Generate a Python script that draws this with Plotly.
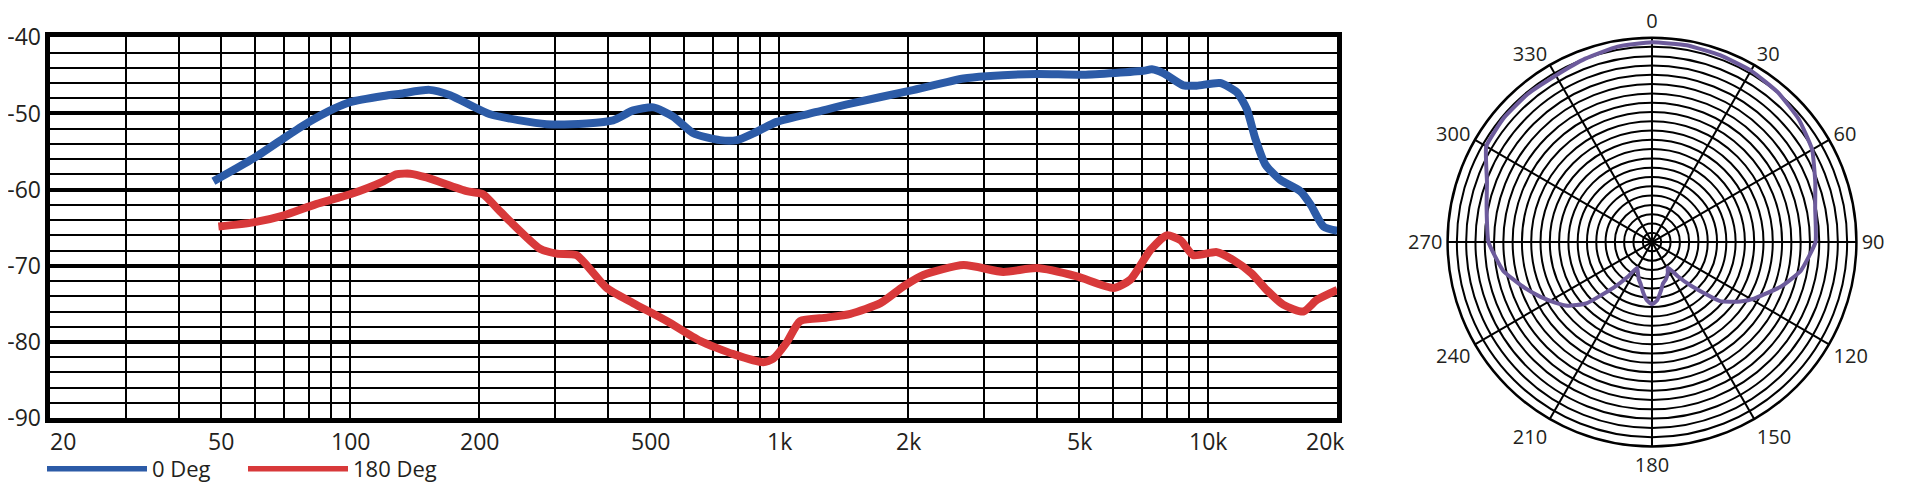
import math
import plotly.graph_objects as go

# ---------------- data ----------------
freq_0deg = [48, 59.5, 69.8, 79.2, 91.4, 100, 119.5, 131, 153, 171, 212, 287, 356, 410, 457, 509,
             566, 631, 728, 796, 871, 987, 1224, 1466, 2023, 2690, 3046, 3986, 5118, 7064, 7390,
             7862, 8750, 9400, 10660, 11660, 12300, 12880, 13590, 14720, 16400, 17300, 18580, 20000]
db_0deg = [-58.9, -55.9, -53.3, -51.3, -49.4, -48.5, -47.7, -47.4, -46.9, -47.6, -50.1, -51.4, -51.3,
           -50.9, -49.6, -49.2, -50.4, -52.6, -53.5, -53.5, -52.6, -51.1, -49.8, -48.7, -47.0, -45.4,
           -45.1, -44.8, -44.9, -44.4, -44.2, -44.7, -46.3, -46.35, -46.0, -47.2, -49.4, -53.3, -56.7,
           -58.7, -60.2, -61.9, -64.85, -65.4]

freq_180deg = [49.3, 59.5, 69.8, 83.3, 100, 119.5, 128, 138, 150.6, 187, 204, 223, 277, 303, 337, 396,
               457, 547, 654, 782, 918, 968, 1040, 1119, 1291, 1466, 1722, 1949, 2168, 2690, 3329,
               3986, 4945, 6016, 6578, 7330, 8007, 8625, 9230, 10470, 11450, 12630, 13680, 14960,
               16670, 17950, 20000]
db_180deg = [-64.85, -64.3, -63.4, -61.9, -60.6, -58.9, -58.0, -57.9, -58.4, -60.2, -60.6, -62.8,
             -67.75, -68.4, -68.6, -72.9, -74.9, -77.25, -79.85, -81.6, -82.65, -82.2, -80.1, -77.25,
             -76.8, -76.3, -74.9, -72.7, -71.2, -69.9, -70.8, -70.3, -71.4, -72.9, -71.85, -67.95,
             -66.0, -66.65, -68.6, -68.2, -69.25, -71.0, -73.15, -75.1, -76.0, -74.45, -73.15]

# grid positions (every 1-9 multiple) and labelled frequencies
x_grid_vals = [20, 30, 40, 50, 60, 70, 80, 90,
               100, 200, 300, 400, 500, 600, 700, 800, 900,
               1000, 2000, 3000, 4000, 5000, 6000, 7000, 8000, 9000,
               10000, 20000]
x_label_vals = [20, 50, 100, 200, 500, 1000, 2000, 5000, 10000, 20000]
x_label_text = ["20", "50", "100", "200", "500", "1k", "2k", "5k", "10k", "20k"]
y_tick_vals = [-40, -50, -60, -70, -80, -90]
y_tick_text = ["-40", "-50", "-60", "-70", "-80", "-90"]

series_names = ["0 Deg", "180 Deg"]

polar_angle = [0, 10, 20, 30, 40, 50, 60, 70, 78, 90, 101, 109, 119, 124, 131, 138, 143, 148,
               153, 160, 165, 170, 175, 180, 185, 190, 195, 200, 205, 210, 215, 220, 227, 233,
               238, 244, 251, 259, 270, 282, 290, 300, 310, 320, 330, 340, 350, 360]
polar_r = [21.5, 21.5, 21.4, 21.3, 21.05, 20.6, 19.9, 18.7, 17.95, 17.6, 16.3, 14.7, 12.55, 11.45,
           9.7, 6.4, 4.6, 3.2, 3.75, 4.3, 4.6, 5.4, 6.3, 6.7, 6.3, 5.5, 4.7, 4.2, 3.6, 3.2, 4.6,
           6.4, 9.7, 11.4, 12.3, 13.4, 14.7, 16.3, 17.6, 18.2, 18.9, 20.6, 20.8, 20.8, 20.7, 21.0,
           21.35, 21.5]
polar_ticks = [0, 30, 60, 90, 120, 150, 180, 210, 240, 270, 300, 330]

# ---------------- styles ----------------
BLUE = "#2C5BA7"
RED = "#D8393A"
PURPLE = "#6D5B9C"
INK = "#231F20"
FONT = "Open Sans"

fig = go.Figure()

fig.add_trace(go.Scatter(x=freq_0deg, y=db_0deg, mode="lines", name=series_names[0],
                         line=dict(color=BLUE, width=8, shape="spline", smoothing=0.6),
                         showlegend=False, xaxis="x", yaxis="y"))
fig.add_trace(go.Scatter(x=freq_180deg, y=db_180deg, mode="lines", name=series_names[1],
                         line=dict(color=RED, width=8, shape="spline", smoothing=0.6),
                         showlegend=False, xaxis="x", yaxis="y"))
# legend entries
fig.add_trace(go.Scatter(x=[None], y=[None], mode="lines", name=series_names[0],
                         line=dict(color=BLUE, width=5.5), xaxis="x", yaxis="y"))
fig.add_trace(go.Scatter(x=[None], y=[None], mode="lines", name=series_names[1],
                         line=dict(color=RED, width=5.5), xaxis="x", yaxis="y"))

fig.add_trace(go.Scatterpolar(theta=polar_angle, r=polar_r, mode="lines",
                              line=dict(color=PURPLE, width=4, shape="spline", smoothing=0.4),
                              showlegend=False, subplot="polar"))

# The page body adds an 8px offset; figure coordinates = page coordinates - 8
OFF = 8
W, H = 1920 - 2 * OFF, 498 - 2 * OFF


def px_x(x):
    return (x - OFF) / W


def px_y(y):
    return (H - (y - OFF)) / H


PC_X, PC_Y, PR = 1652, 245, 207

X_MIN, X_MAX = math.log10(20), math.log10(20000)

# x tick labels as annotations (first / last nudged inward as in the reference)
x_label_shift = {20: 13, 20000: -12}
annotations = []
for v, t in zip(x_label_vals, x_label_text):
    annotations.append(dict(
        x=min(max(math.log10(v), X_MIN), X_MAX), xref="x", y=px_y(446), yref="paper",
        text=t, showarrow=False, xanchor="center", yanchor="middle",
        xshift=x_label_shift.get(v, 0),
        font=dict(family=FONT, size=23, color=INK),
    ))

fig.update_layout(
    width=W, height=H, autosize=False,
    margin=dict(l=0, r=0, t=0, b=0, pad=0),
    paper_bgcolor="white", plot_bgcolor="white",
    font=dict(family=FONT, size=22, color=INK),
    xaxis=dict(
        type="log", automargin=False,
        domain=[px_x(50.3), px_x(1337.3)],
        range=[X_MIN, X_MAX],
        tickmode="array", tickvals=x_grid_vals, showticklabels=False,
        showgrid=True, gridcolor="black", gridwidth=2.3,
        showline=True, mirror=True, linecolor="black", linewidth=4.5,
        ticks="", zeroline=False,
    ),
    yaxis=dict(
        automargin=False,
        domain=[px_y(423.3), px_y(37.7)],
        range=[-90, -40],
        tickmode="array", tickvals=y_tick_vals, ticktext=y_tick_text,
        showgrid=True, gridcolor="black", gridwidth=4,
        minor=dict(dtick=2, tick0=-90, showgrid=True, gridcolor="black", gridwidth=2.3, ticks=""),
        showline=True, mirror=True, linecolor="black", linewidth=4.5,
        ticks="", zeroline=False,
        tickfont=dict(size=23, color=INK),
    ),
    polar=dict(
        domain=dict(x=[px_x(PC_X - PR), px_x(PC_X + PR)],
                    y=[px_y(PC_Y + PR), px_y(PC_Y - PR)]),
        bgcolor="white",
        angularaxis=dict(rotation=90, direction="clockwise",
                         tickmode="array", tickvals=polar_ticks,
                         ticktext=[str(t) for t in polar_ticks],
                         showgrid=True, gridcolor="black", gridwidth=2,
                         showline=True, linecolor="black", linewidth=2.5,
                         ticks="", tickfont=dict(size=20, color=INK)),
        radialaxis=dict(range=[0, 22], dtick=1, tick0=0,
                        showgrid=True, gridcolor="black", gridwidth=2,
                        showline=False, showticklabels=False, ticks=""),
    ),
    legend=dict(orientation="h", x=px_x(42), xanchor="left", y=px_y(475), yanchor="middle",
                itemwidth=100, entrywidth=86, entrywidthmode="pixels",
                font=dict(size=22, color=INK), bgcolor="rgba(0,0,0,0)",
                tracegroupgap=0),
    annotations=annotations,
)

fig.write_html("out.html")
